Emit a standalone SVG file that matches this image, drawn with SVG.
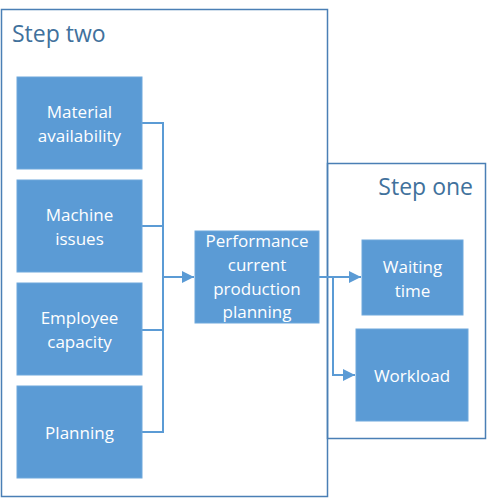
<svg xmlns="http://www.w3.org/2000/svg" width="495" height="501" viewBox="0 0 495 501">
<style>
.frame{fill:none;stroke:#4a7fb5;stroke-width:1.5}
.box{fill:#5b9bd5;stroke:#6fa8dc;stroke-width:1}
.t{font-family:"Open Sans","Liberation Sans",sans-serif;font-size:17px;fill:#ffffff;text-anchor:middle}
.h{font-family:"Open Sans","Liberation Sans",sans-serif;font-size:23px;fill:#41719c}
.c{fill:none;stroke:#5b9bd5;stroke-width:2}
</style>
<defs>
<marker id="ar" viewBox="0 0 12 12" refX="12" refY="6" markerWidth="12" markerHeight="12" markerUnits="userSpaceOnUse" orient="auto">
<path d="M0,0 L12,6 L0,12 z" fill="#5b9bd5"/>
</marker>
</defs>
<g id="step-two">
<rect class="frame" x="1.5" y="9.5" width="326" height="487"/>
<text class="h" x="12" y="42">Step two</text>
</g>
<g id="step-one">
<rect class="frame" x="327.5" y="163.5" width="158" height="275"/>
<text class="h" x="473" y="195" text-anchor="end">Step one</text>
</g>
<g id="connectors">
<path class="c" d="M142,123 H163 V432 H142 M142,226 H163 M142,330 H163"/>
<path class="c" d="M163,277 H194" marker-end="url(#ar)"/>
<path class="c" d="M319,277 H361" marker-end="url(#ar)"/>
<path class="c" d="M333,277 V375 H355" marker-end="url(#ar)"/>
</g>
<g id="material-availability">
<rect class="box" x="17" y="77" width="125" height="92"/>
<text class="t" x="79.5" y="118">Material</text>
<text class="t" x="79.5" y="142">availability</text>
</g>
<g id="machine-issues">
<rect class="box" x="17" y="180" width="125" height="92"/>
<text class="t" x="79.5" y="221">Machine</text>
<text class="t" x="79.5" y="245">issues</text>
</g>
<g id="employee-capacity">
<rect class="box" x="17" y="283" width="125" height="92"/>
<text class="t" x="79.5" y="324">Employee</text>
<text class="t" x="79.5" y="348">capacity</text>
</g>
<g id="planning">
<rect class="box" x="17" y="386" width="125" height="92"/>
<text class="t" x="79.5" y="439">Planning</text>
</g>
<g id="performance">
<rect class="box" x="195" y="231" width="124" height="92"/>
<text class="t" x="257" y="247">Performance</text>
<text class="t" x="257" y="271">current</text>
<text class="t" x="257" y="295">production</text>
<text class="t" x="257" y="318">planning</text>
</g>
<g id="waiting-time">
<rect class="box" x="362" y="240" width="101" height="75"/>
<text class="t" x="412.5" y="273">Waiting</text>
<text class="t" x="412.5" y="297">time</text>
</g>
<g id="workload">
<rect class="box" x="356" y="329" width="112" height="92"/>
<text class="t" x="412" y="382">Workload</text>
</g>
</svg>
